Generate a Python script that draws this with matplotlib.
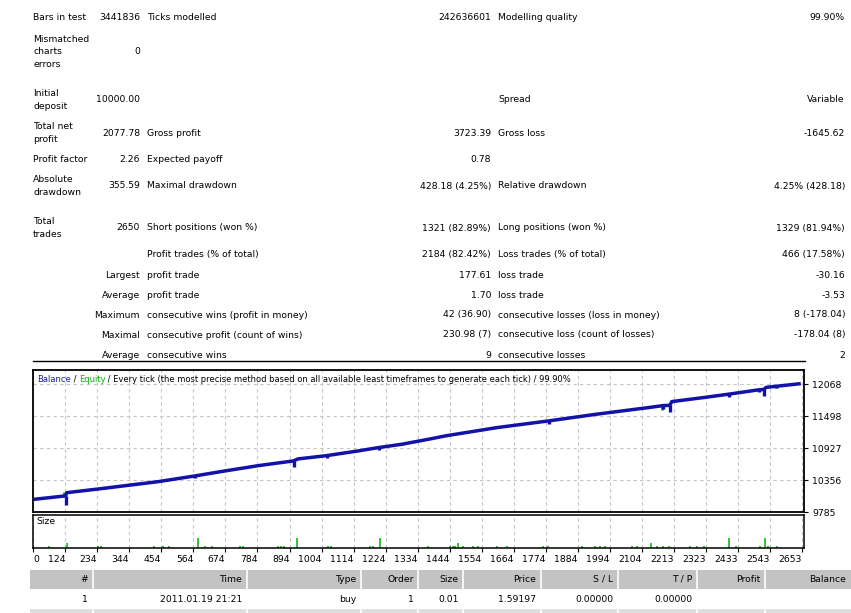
import matplotlib
matplotlib.use("Agg")
import matplotlib.pyplot as plt
from matplotlib.patches import Rectangle
import numpy as np

plt.rcParams['font.family'] = ['DejaVu Sans']
FS = 6.7

# summary table (MT4 strategy tester report)
row_y = [18, 52, 100, 133, 160, 186, 228, 255, 275, 295, 315, 335, 355]
col1_labels = ["Bars in test", "Mismatched\ncharts\nerrors", "Initial\ndeposit", "Total net\nprofit",
               "Profit factor", "Absolute\ndrawdown", "Total\ntrades", "", "Largest", "Average",
               "Maximum", "Maximal", "Average"]
col1_values = ["3441836", "0", "10000.00", "2077.78", "2.26", "355.59", "2650", "", "", "", "", "", ""]
col2_labels = ["Ticks modelled", "", "", "Gross profit", "Expected payoff", "Maximal drawdown",
               "Short positions (won %)", "Profit trades (% of total)", "profit trade", "profit trade",
               "consecutive wins (profit in money)", "consecutive profit (count of wins)", "consecutive wins"]
col2_values = ["242636601", "", "", "3723.39", "0.78", "428.18 (4.25%)", "1321 (82.89%)",
               "2184 (82.42%)", "177.61", "1.70", "42 (36.90)", "230.98 (7)", "9"]
col3_labels = ["Modelling quality", "", "Spread", "Gross loss", "", "Relative drawdown",
               "Long positions (won %)", "Loss trades (% of total)", "loss trade", "loss trade",
               "consecutive losses (loss in money)", "consecutive loss (count of losses)", "consecutive losses"]
col3_values = ["99.90%", "", "Variable", "-1645.62", "", "4.25% (428.18)", "1329 (81.94%)",
               "466 (17.58%)", "-30.16", "-3.53", "8 (-178.04)", "-178.04 (8)", "2"]

# balance curve (trade number, balance)
bal_trades = [14, 121, 125, 129, 237, 443, 569, 672, 787, 907, 923, 1022, 1130, 1199, 1280, 1377,
              1429, 1606, 1784, 1949, 2127, 2178, 2200, 2207, 2316, 2402, 2504, 2524, 2530, 2650]
bal_values = [10010, 10071, 10073, 10130, 10196, 10327, 10429, 10518, 10613, 10697, 10733, 10792,
              10876, 10935, 10995, 11090, 11144, 11292, 11412, 11532, 11650, 11686, 11690, 11757,
              11829, 11889, 11966, 11975, 12010, 12078]
dip_trades = [125, 571, 908, 1024, 1200, 1784, 2178, 2200, 2402, 2506, 2524, 2564]
dip_lows = [9910, 10388, 10595, 10745, 10894, 11353, 11621, 11578, 11847, 11925, 11864, 11995]
eq_trades = [121, 2172, 2290, 2568]
eq_lows = [10071, 11600, 11800, 11995]
eq_highs = [10140, 11690, 11830, 12020]

# lot sizes
size_trades = [69, 129, 237, 247, 430, 461, 481, 580, 604, 627, 724, 735, 856, 865, 876, 919, 1027,
               1037, 1171, 1182, 1205, 1371, 1445, 1455, 1463, 1474, 1491, 1523, 1543, 1606, 1642,
               1766, 1783, 1898, 1944, 1961, 1978, 2070, 2087, 2135, 2155, 2178, 2199, 2270, 2293,
               2316, 2404, 2428, 2510, 2527, 2539, 2568]
size_lots = [0.01, 0.02, 0.01, 0.01, 0.01, 0.01, 0.01, 0.04, 0.01, 0.01, 0.01, 0.01, 0.01, 0.01,
             0.01, 0.04, 0.01, 0.01, 0.01, 0.01, 0.04, 0.01, 0.01, 0.01, 0.01, 0.02, 0.01, 0.01,
             0.01, 0.01, 0.01, 0.01, 0.01, 0.01, 0.01, 0.01, 0.01, 0.01, 0.01, 0.02, 0.01, 0.01,
             0.01, 0.01, 0.01, 0.01, 0.04, 0.01, 0.01, 0.04, 0.01, 0.01]

y_ticks = [9785, 10356, 10927, 11498, 12068]
x_labels = ["0", "124", "234", "344", "454", "564", "674", "784", "894", "1004", "1114", "1224",
            "1334", "1444", "1554", "1664", "1774", "1884", "1994", "2104", "2213", "2323",
            "2433", "2543", "2653"]

trade_headers = ["#", "Time", "Type", "Order", "Size", "Price", "S / L", "T / P", "Profit", "Balance"]
trade_row = ["1", "2011.01.19 21:21", "buy", "1", "0.01", "1.59197", "0.00000", "0.00000", "", ""]

W, H = 851, 613
fig = plt.figure(figsize=(W / 100, H / 100), dpi=100)
fig.patch.set_facecolor('white')

# pixel-space background axes for the report text
bg = fig.add_axes([0, 0, 1, 1])
bg.set_xlim(0, W)
bg.set_ylim(H, 0)
bg.axis('off')

for i, y in enumerate(row_y):
    if col1_values[i] == "":
        bg.text(140, y, col1_labels[i], ha='right', va='center', fontsize=FS)
    else:
        bg.text(33, y, col1_labels[i], ha='left', va='center', fontsize=FS, linespacing=1.5)
    bg.text(140, y, col1_values[i], ha='right', va='center', fontsize=FS)
    bg.text(147, y, col2_labels[i], ha='left', va='center', fontsize=FS)
    bg.text(491, y, col2_values[i], ha='right', va='center', fontsize=FS)
    bg.text(498, y, col3_labels[i], ha='left', va='center', fontsize=FS)
    bg.text(845, y, col3_values[i], ha='right', va='center', fontsize=FS)

bg.plot([33, 805], [361, 361], color='black', lw=1)

# trades list at the bottom
col_right = [88, 242, 356.6, 413.7, 459, 536, 613.5, 692.5, 760.5, 846.5]
col_sep = [92.5, 246.6, 361, 417.5, 462.7, 540.6, 617.9, 696.8, 764.9]
bg.add_patch(Rectangle((30, 570), W - 30, 19, color='#c3c3c3', lw=0))
bg.add_patch(Rectangle((30, 609), W - 30, 10, color='#dedede', lw=0))
for xs in col_sep:
    bg.plot([xs, xs], [570, 589], color='white', lw=1.2)
    bg.plot([xs, xs], [609, 613], color='white', lw=1.2)
for xr, h, v in zip(col_right, trade_headers, trade_row):
    bg.text(xr, 579.5, h, ha='right', va='center', fontsize=FS)
    bg.text(xr, 600, v, ha='right', va='center', fontsize=FS)

# chart panes
def rect(x0, y0, x1, y1):
    return [x0 / W, 1 - y1 / H, (x1 - x0) / W, (y1 - y0) / H]

ax = fig.add_axes(rect(33, 369.5, 804, 512))
axs = fig.add_axes(rect(33, 514.5, 804, 548))

blue = '#1212a8'
green = '#00b000'
grid_kw = dict(color='#c4c4c4', linestyle=(0, (3, 3)), lw=0.8)
xlim = (13, 2661)
x_pos = [xlim[0]] + [float(s) for s in x_labels[1:]]

ax.vlines(eq_trades, eq_lows, eq_highs, color=green, lw=2, zorder=3)
ax.plot(bal_trades, bal_values, color=blue, lw=2.5, solid_capstyle='butt', zorder=4)
dip_tops = np.interp(dip_trades, bal_trades, bal_values)
ax.vlines(dip_trades, dip_lows, dip_tops, color=blue, lw=2.4, zorder=4)
ax.set_xlim(*xlim)
ax.set_ylim(9785, 12330)
ax.set_xticks(x_pos)
ax.set_yticks(y_ticks)
ax.set_yticklabels([str(v) for v in y_ticks], fontsize=FS)
ax.yaxis.tick_right()
ax.tick_params(axis='y', direction='out', length=3, width=0.8, pad=3)
ax.tick_params(axis='x', length=0, labelbottom=False)
ax.grid(True, **grid_kw)
ax.set_axisbelow(True)
for sp in ax.spines.values():
    sp.set_linewidth(1.3)

# title made of coloured pieces
TFS = 6.0
t = ax.text(0.005, 0.93, "Balance", transform=ax.transAxes, color='#1a1ab4', fontsize=TFS, va='center')
t = ax.annotate(" / ", xycoords=t, xy=(1, 0), va='bottom', fontsize=TFS)
t = ax.annotate("Equity", xycoords=t, xy=(1, 0), va='bottom', fontsize=TFS, color='#10b010')
ax.annotate(" / Every tick (the most precise method based on all available least timeframes "
            "to generate each tick) / 99.90%", xycoords=t, xy=(1, 0), va='bottom', fontsize=TFS)

axs.vlines(size_trades, 0, size_lots, color=green, lw=1.1)
axs.set_xlim(*xlim)
axs.set_ylim(0, 0.134)
axs.set_yticks([])
axs.set_xticks(x_pos)
axs.set_xticklabels(x_labels, fontsize=FS, ha='right')
axs.get_xticklabels()[0].set_ha('left')
axs.tick_params(axis='x', direction='out', length=3, width=0.8, pad=2)
axs.grid(True, axis='x', **grid_kw)
axs.set_axisbelow(True)
for sp in axs.spines.values():
    sp.set_linewidth(1.1)
axs.text(0.005, 0.78, "Size", transform=axs.transAxes, fontsize=FS, va='center')

fig.savefig("out.png", dpi=100)
